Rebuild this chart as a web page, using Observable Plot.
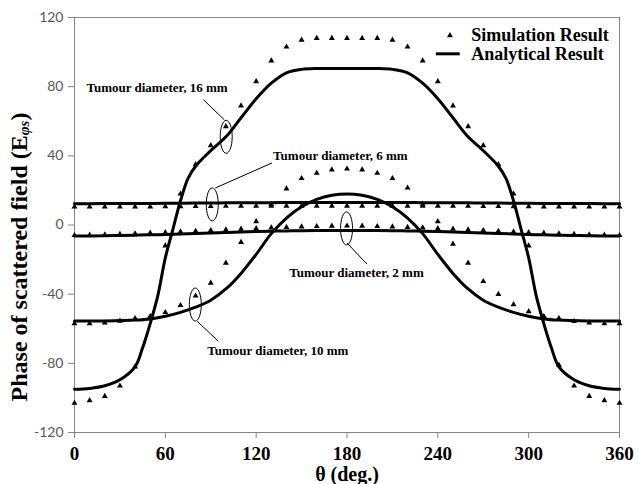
<!DOCTYPE html>
<html><head><meta charset="utf-8">
<script src="https://cdn.jsdelivr.net/npm/d3@7"></script>
<script src="https://cdn.jsdelivr.net/npm/@observablehq/plot@0.6"></script>
<style>body{margin:0;background:#fff}</style>
</head><body><div id="chart"></div>
<script>
// ---- data ----
const xTicks = [0, 60, 120, 180, 240, 300, 360];
const yTicks = [-120, -80, -40, 0, 40, 80, 120];

const simAngles = [0,10,20,30,40,50,60,70,80,90,100,110,120,130,140,150,160,170,180,190,200,210,220,230,240,250,260,270,280,290,300,310,320,330,340,350,360];

// Simulation results (triangles)
const sim2  = [-6,-5.8,-5.6,-5.3,-5,-4.6,-4.3,-3.9,-3.5,-3.1,-2.7,-2.3,-2,-1.6,-1.3,-1,-0.8,-0.6,-0.5,-0.6,-0.8,-1,-1.3,-1.6,-2,-2.3,-2.7,-3.1,-3.5,-3.9,-4.3,-4.6,-5,-5.3,-5.6,-5.8,-6];
const sim6  = [10.5,10.5,10.5,10.6,10.6,10.6,10.7,10.7,10.8,10.8,10.9,10.9,11,11,11,11,11,11,11,11,11,11,11,11,11,10.9,10.9,10.8,10.8,10.7,10.7,10.6,10.6,10.6,10.5,10.5,10.5];
const sim10 = [-57,-57,-56.5,-55.5,-54,-53,-50.5,-46.5,-41,-33.5,-22,-10,2,12,21,27,30,32,32.5,32,30,27,21.5,12,2,-11,-22,-32.6,-40,-46,-50,-53,-54,-55.7,-56.5,-57,-57];
const sim16 = [-103,-101.5,-99,-93,-82,-53,-12,18,35,46,57,69,83,95,103,107,108,108,108,108,108,107,103,95,83,69,57,46,35,18,-12,-53,-81,-93,-99,-101.5,-103];

// Analytical results (lines)
const an2  = [-6.3,-6.3,-6.2,-6.1,-5.9,-5.7,-5.5,-5.2,-4.9,-4.6,-4.3,-4,-3.8,-3.6,-3.4,-3.3,-3.2,-3.2,-3.2,-3.2,-3.2,-3.3,-3.4,-3.6,-3.8,-4,-4.3,-4.6,-4.9,-5.2,-5.5,-5.7,-5.9,-6.1,-6.2,-6.3,-6.3];
const an6  = [12.3,12.3,12.4,12.4,12.5,12.5,12.6,12.6,12.7,12.7,12.8,12.8,12.9,12.9,13,13,13,13,13,13,13,13,13,12.9,12.9,12.8,12.8,12.7,12.7,12.6,12.6,12.5,12.5,12.4,12.4,12.3,12.3];
const an10 = [-55.5,-55.5,-55.5,-55.3,-55,-54.3,-52.8,-50.5,-47.5,-43.5,-37,-28,-17,-5,4,10.5,14.8,17.2,18,17.2,14.8,10.5,4,-5,-17,-28,-37,-43.5,-47.5,-50.5,-52.8,-54.3,-55,-55.3,-55.5,-55.5,-55.5];
const an16Angles = [0,10,20,30,40,45,50,55,60,65,70,75,80,90,100,110,120,130,140,150,160,170,180,190,200,210,220,230,240,250,260,270,280,285,290,295,300,305,310,315,320,330,340,350,360];
const an16 = [-95,-94.5,-93,-89.5,-82,-71,-57,-41,-19,-2.5,14,27,34,43,51,62,73,82,88,90,90.5,90.5,90.5,90.5,90.5,90,88,82,73,62,51,43,34,27,14,-2.5,-19,-41,-57,-71,-82,-89.5,-93,-94.5,-95];

// Annotations (data coordinates)
const annoLabels = ["Tumour diameter, 16 mm", "Tumour diameter, 6 mm", "Tumour diameter, 2 mm", "Tumour diameter, 10 mm"];
const annoX = [7.9, 131.2, 141.8, 87.7];
const annoY = [79.4, 40, -27.5, -72.5];
const ellipseX = [100.2, 91, 179.7, 79.8];
const ellipseY = [51, 11.9, -2, -46];
const leaderX1 = [85.1, 93, 180, 81.1];
const leaderY1 = [72.5, 21.4, -10.4, -55.7];
const leaderX2 = [98.9, 130.5, 193.2, 95];
const leaderY2 = [60.9, 35.9, -22.6, -67.2];

// Legend
const legendLabels = ["Simulation Result", "Analytical Result"];
const legendTextX = 262;
const legendY = [109.6, 99];
const legendSymX = 248;
const legendLineX = [238.7, 254.5];

const xLabel = "θ (deg.)";

// ---- build tables ----
const simTable = [];
[sim2, sim6, sim10, sim16].forEach((arr, k) => arr.forEach((v, i) => simTable.push({series: k, angle: simAngles[i], value: v})));
const lineTable = [];
[an2, an6, an10].forEach((arr, k) => arr.forEach((v, i) => lineTable.push({series: k, angle: simAngles[i], value: v})));
an16.forEach((v, i) => lineTable.push({series: 3, angle: an16Angles[i], value: v}));
const annoTable = annoLabels.map((t, i) => ({t, x: annoX[i], y: annoY[i], ex: ellipseX[i], ey: ellipseY[i], x1: leaderX1[i], y1: leaderY1[i], x2: leaderX2[i], y2: leaderY2[i]}));

const serif = "'Liberation Serif','Times New Roman',serif";

const ellipse = {
  draw(ctx) {
    const rx = 6, ry = 16.5, k = 0.5523, kx = rx * k, ky = ry * k;
    ctx.moveTo(rx, 0);
    ctx.bezierCurveTo(rx, ky, kx, ry, 0, ry);
    ctx.bezierCurveTo(-kx, ry, -rx, ky, -rx, 0);
    ctx.bezierCurveTo(-rx, -ky, -kx, -ry, 0, -ry);
    ctx.bezierCurveTo(kx, -ry, rx, -ky, rx, 0);
    ctx.closePath();
  }
};

const chart = Plot.plot({
  width: 638, height: 484,
  marginLeft: 74, marginRight: 19, marginTop: 17, marginBottom: 52,
  style: {background: "#fff", overflow: "visible"},
  x: {domain: [0, 360]},
  y: {domain: [-120, 120]},
  marks: [
    Plot.frame({stroke: "#868686"}),
    Plot.axisX({ticks: xTicks, tickSize: 6, tickPadding: 8, stroke: "#868686", fill: "#000", fontSize: 19, fontWeight: "bold", fontFamily: serif, label: null}),
    Plot.axisY({ticks: yTicks, tickSize: 6, tickPadding: 5, stroke: "#868686", fill: "#595959", fontSize: 14, fontFamily: "Lato, 'Liberation Sans', sans-serif", tickFormat: d => String(d), label: null}),
    Plot.text([xLabel], {frameAnchor: "bottom", lineAnchor: "middle", dy: 42, text: d => d, fontSize: 20, fontWeight: "bold", fontFamily: serif, fill: "#000"}),
    Plot.line(lineTable, {x: "angle", y: "value", z: "series", curve: "catmull-rom", stroke: "#000", strokeWidth: 3}),
    Plot.dot(simTable, {x: "angle", y: "value", symbol: "triangle", r: 2.2, fill: "#000", stroke: null}),
    Plot.dot(annoTable, {x: "ex", y: "ey", symbol: ellipse, fill: "none", stroke: "#000", strokeWidth: 1}),
    Plot.link(annoTable, {x1: "x1", y1: "y1", x2: "x2", y2: "y2", stroke: "#000", strokeWidth: 1}),
    Plot.text(annoTable, {x: "x", y: "y", text: "t", textAnchor: "start", fontSize: 13, fontWeight: "bold", fontFamily: serif, fill: "#000"}),
    // legend
    Plot.dot([legendY[0]], {x: () => legendSymX, y: d => d, symbol: "triangle", r: 2.2, fill: "#000", stroke: null}),
    Plot.link([legendY[1]], {x1: () => legendLineX[0], x2: () => legendLineX[1], y1: d => d, y2: d => d, stroke: "#000", strokeWidth: 3}),
    Plot.text(legendLabels, {x: () => legendTextX, y: (d, i) => legendY[i], text: d => d, textAnchor: "start", fontSize: 18, fontWeight: "bold", fontFamily: serif, fill: "#000"})
  ]
});

// Y-axis title with subscript
const svg = d3.select(chart);
const yt = svg.append("text")
  .attr("transform", "translate(19,257) rotate(-90)")
  .attr("text-anchor", "middle")
  .attr("dominant-baseline", "central")
  .attr("font-family", serif)
  .attr("font-weight", "bold")
  .attr("font-size", 24)
  .attr("fill", "#000");
yt.append("tspan").text("Phase of scattered field (E");
yt.append("tspan").attr("font-size", 15).attr("font-style", "italic").attr("dy", 5).text("φs");
yt.append("tspan").attr("dy", -5).text(")");

document.getElementById("chart").appendChild(chart);
</script>
</body></html>
